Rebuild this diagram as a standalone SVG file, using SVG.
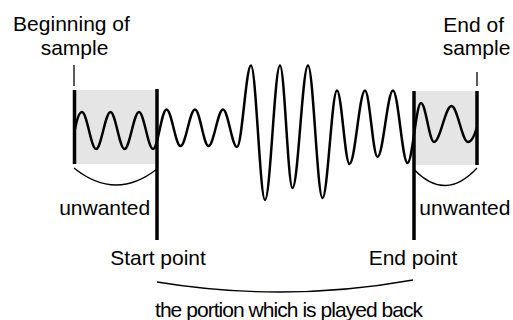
<svg xmlns="http://www.w3.org/2000/svg" width="513" height="320" viewBox="0 0 513 320">
<style>
text{font-family:"Liberation Sans",Arial,sans-serif;font-size:21px;fill:#000;text-anchor:middle}
.box{fill:#e5e5e5;stroke:none}
.thick{stroke:#000;stroke-width:3.5;fill:none}
.thin{stroke:#000;stroke-width:1.3;fill:none}
.wave{stroke:#000;stroke-width:2.5;fill:none;stroke-linejoin:round}
</style>
<rect width="513" height="320" fill="#fff"/>
<g id="unwanted-start-region">
<rect class="box" x="74" y="90" width="83" height="74"/>
</g>
<g id="unwanted-end-region">
<rect class="box" x="414" y="91" width="63" height="74"/>
</g>
<g id="waveform">
<path class="wave" d="M75,129 C77,119 79.5,112 82,112 C87,112 91,149 96,149 C101.2,149 105.3,112 110.5,112 C115.5,112 119.5,149 124.5,149 C129.7,149 133.8,112 139,112 C144,112 148,149 153,149 C157.9,149 161.6,109.5 166.5,109.5 C171.5,109.5 175.5,146 180.5,146 C185.7,146 189.8,109.5 195,109.5 C199.9,109.5 203.6,146 208.5,146 C213.7,146 217.8,109.5 223,109.5 C228,109.5 232,147 237,147 C242,147 246,65.5 251,65.5 C256,65.5 260,200 265,200 C270.4,200 274.6,65.5 280,65.5 C284.5,65.5 288,188 292.5,188 C298.1,188 302.4,65.5 308,65.5 C313.2,65.5 317.3,198 322.5,198 C327.7,198 331.8,90.5 337,90.5 C341.5,90.5 345,164 349.5,164 C355.1,164 359.4,90.5 365,90.5 C369.5,90.5 373,157 377.5,157 C383.1,157 387.4,90.5 393,90.5 C398.2,90.5 402.3,163 407.5,163 C412.4,163 416.1,103 421,103 C425.7,103 429.3,142 434,142 C440.3,142 445.2,106 451.5,106 C457.4,106 462.1,142 468,142 C471.5,142 475,134 477,127"/>
</g>
<g id="connectors">
<line class="thin" x1="74" y1="65" x2="74" y2="86"/>
<line class="thin" x1="477" y1="72" x2="477" y2="86"/>
<line class="thick" x1="74.5" y1="90" x2="74.5" y2="164"/>
<line class="thick" x1="477" y1="91" x2="477" y2="165"/>
<line class="thick" x1="157" y1="89" x2="157" y2="240"/>
<line class="thick" x1="414" y1="91" x2="414" y2="240"/>
<path class="thin" d="M74,168 Q115.5,201.5 157,169"/>
<path class="thin" d="M414.5,170 Q445.5,202 477,168"/>
<path class="thin" d="M157,282 Q285,303 413,280"/>
</g>
<g id="label-beginning">
<text x="71.5" y="30.5">Beginning of</text>
<text x="74.5" y="55">sample</text>
</g>
<g id="label-end">
<text x="473.7" y="31.5">End of</text>
<text x="476.5" y="55">sample</text>
</g>
<g id="label-unwanted-left">
<text x="104.7" y="215">unwanted</text>
</g>
<g id="label-unwanted-right">
<text x="464.9" y="215">unwanted</text>
</g>
<g id="label-start-point">
<text x="158" y="265">Start point</text>
</g>
<g id="label-end-point">
<text x="413" y="265">End point</text>
</g>
<g id="label-portion">
<text x="289" y="316.5" textLength="268" lengthAdjust="spacing">the portion which is played back</text>
</g>
</svg>
